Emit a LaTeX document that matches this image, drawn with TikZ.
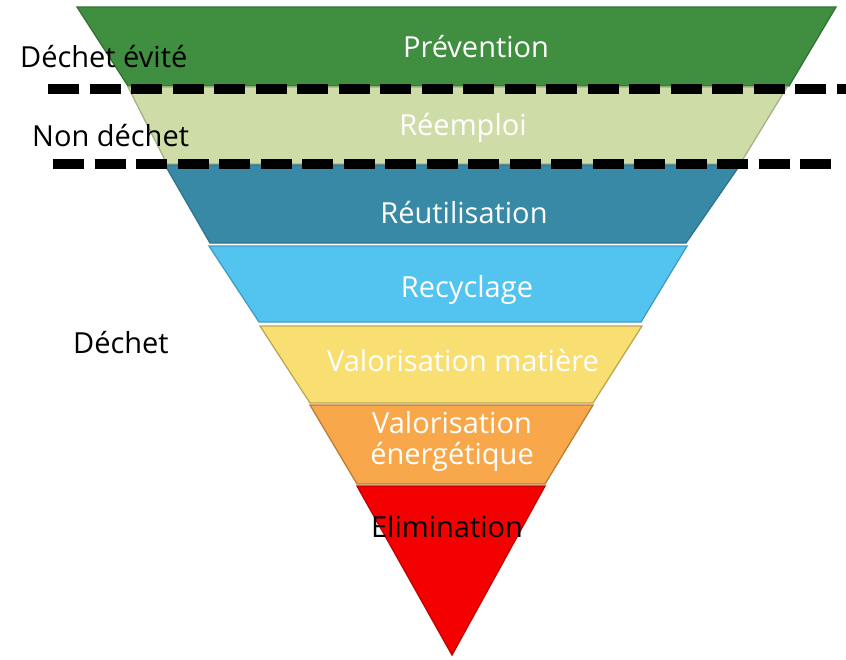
\documentclass[tikz,border=0pt]{standalone}
\usepackage{fontspec}
\setmainfont{Open Sans}
\definecolor{cPrev}{RGB}{64,142,64}
\definecolor{cReem}{RGB}{206,221,168}
\definecolor{cReut}{RGB}{56,137,166}
\definecolor{cRecy}{RGB}{83,196,239}
\definecolor{cValm}{RGB}{249,223,114}
\definecolor{cVale}{RGB}{248,168,74}
\definecolor{cElim}{RGB}{245,0,0}
\tikzset{
  band/.style={line width=1.3pt, line join=miter},
  bandtext/.style={text=white, font=\fontsize{29}{31}\selectfont, inner sep=0pt, align=center},
  sidetext/.style={text=black, font=\fontsize{29}{31}\selectfont, inner sep=0pt, anchor=west},
  divider/.style={line width=9.5pt, dash pattern=on 31pt off 10.5pt, black}
}
\begin{document}
\begin{tikzpicture}[x=1pt,y=-1pt]
\useasboundingbox (0,0) rectangle (846,659);
% bands
\path[band, fill=cPrev, draw=cPrev!80!black] (77,7) -- (836,7) -- (789,86) -- (128,86) -- cycle;
\path[band, fill=cReem, draw=cReem!80!black] (128,87) -- (787,87) -- (740,164) -- (167,164) -- cycle;
\path[band, fill=cReut, draw=cReut!85!black] (165,165) -- (740,165) -- (686,243) -- (210,243) -- cycle;
\path[band, fill=cRecy, draw=cRecy!80!black] (209,246) -- (687,246) -- (641,322) -- (259,322) -- cycle;
\path[band, fill=cValm, draw=cValm!75!black] (260,326) -- (642,326) -- (593,403) -- (310,403) -- cycle;
\path[band, fill=cVale, draw=cVale!75!black] (310,405) -- (593,405) -- (545,484) -- (357,484) -- cycle;
\path[band, fill=cElim, draw=cElim!80!black] (357,486) -- (545,486) -- (452,655) -- cycle;
% band labels
\node[bandtext] (prev) at (476,47) {Prévention};
\node[bandtext] (reem) at (463,128) {Réemploi};
\node[bandtext] (reut) at (464,213) {Réutilisation};
\node[bandtext] (recy) at (467,290) {Recyclage};
\node[bandtext] (valm) at (463,361) {Valorisation matière};
\node[bandtext] (vale) at (452,441) {Valorisation\\énergétique};
\node[bandtext, text=black] (elim) at (447,527) {Elimination};
% side labels
\node[sidetext] (evite) at (20,57) {Déchet évité};
\node[sidetext] (nondechet) at (32,136) {Non déchet};
\node[sidetext] (dechet) at (73,343) {Déchet};
% dashed dividers
\coordinate (d1a) at (48,89);
\coordinate (d1b) at (846,89);
\coordinate (d2a) at (53,164);
\coordinate (d2b) at (838,164);
\draw[divider] (d1a) -- (d1b);
\draw[divider] (d2a) -- (d2b);
\end{tikzpicture}
\end{document}
